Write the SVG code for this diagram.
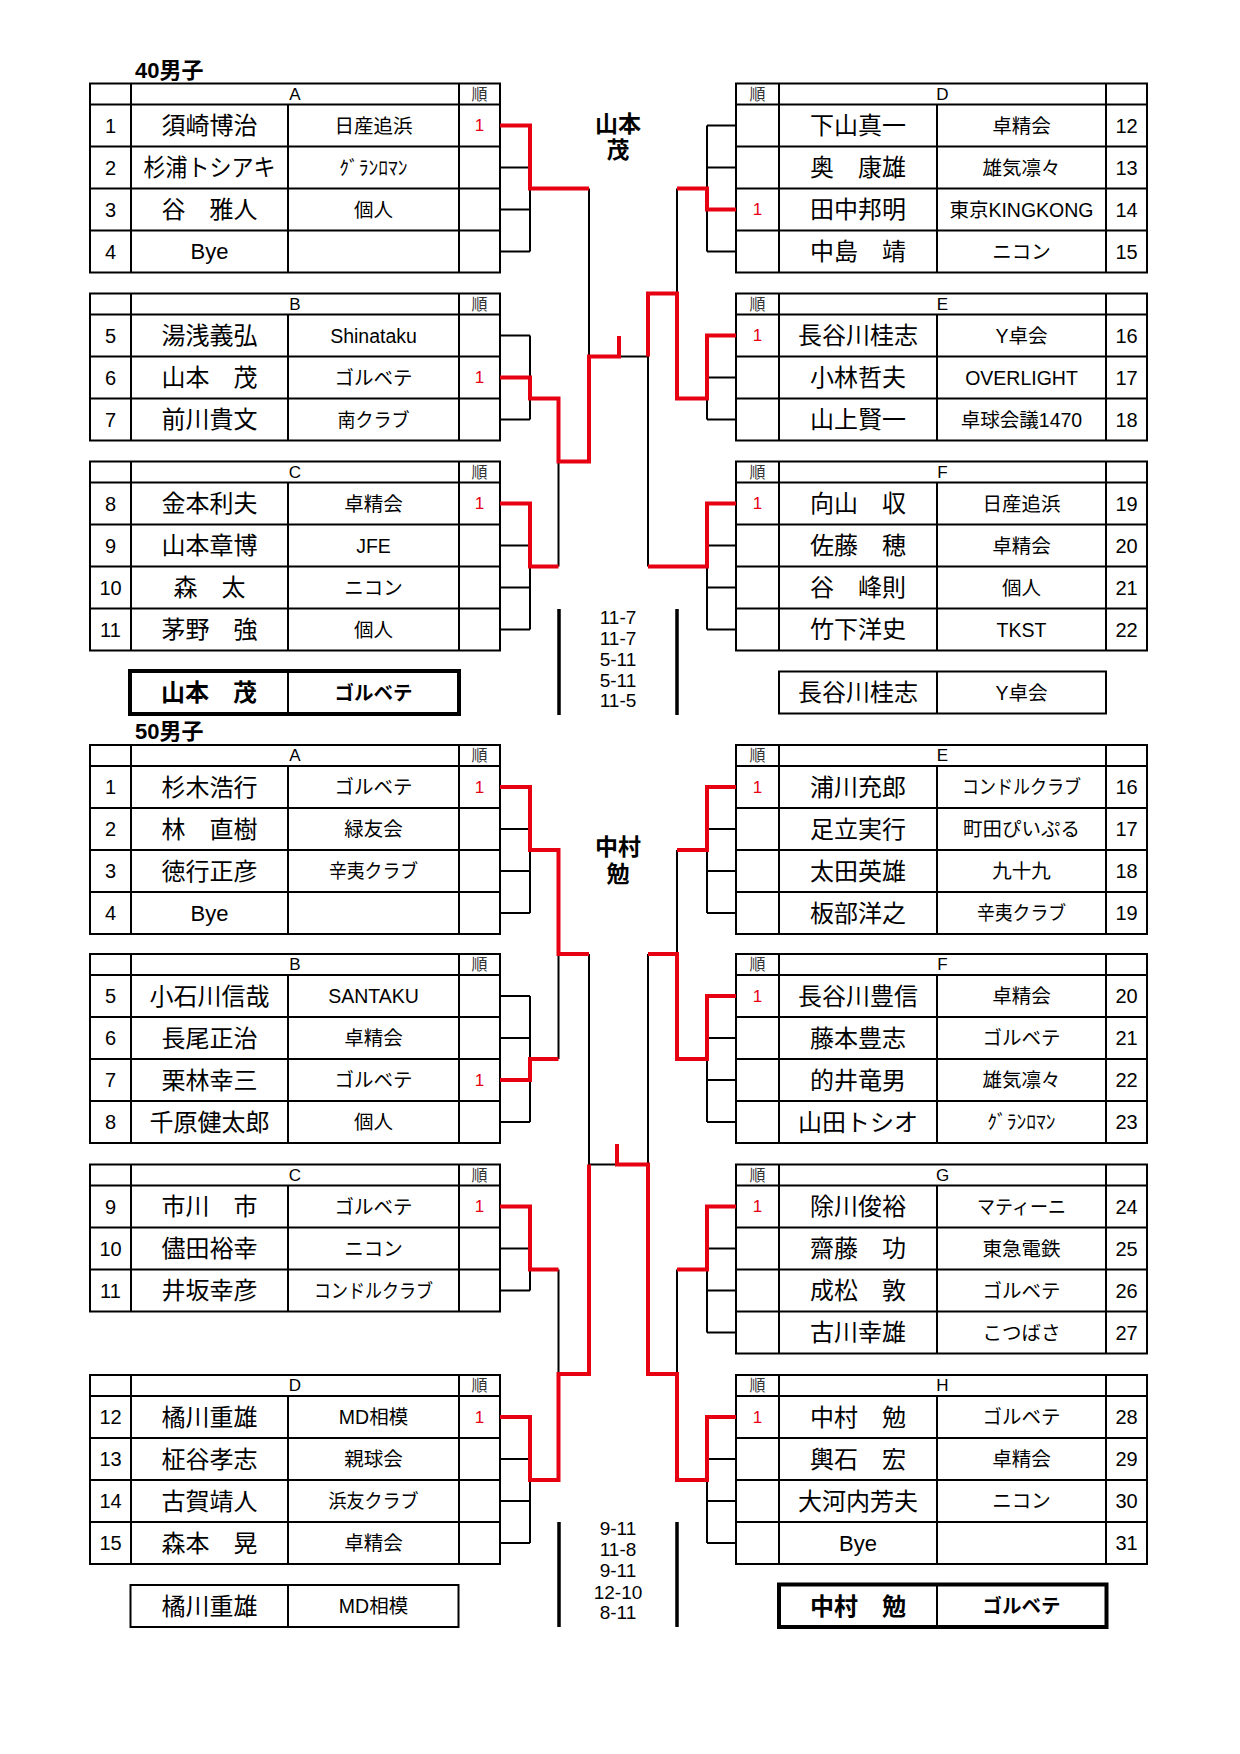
<svg xmlns="http://www.w3.org/2000/svg" width="1240" height="1754" viewBox="0 0 1240 1754">
<style>
text{font-family:'Liberation Sans','Noto Sans CJK JP',sans-serif;text-anchor:middle;dominant-baseline:central;fill:#000}
.tb{fill:none;stroke:#000;stroke-width:2}
.tk{fill:none;stroke:#000;stroke-width:4}
.nm{font-size:24px}
.by{font-size:22px}
.af{font-size:19.5px}
.no{font-size:20px}
.hd{font-size:17px}
.jn{font-size:16px;fill:#333}
.r1{font-size:17px;fill:#e60012}
.ttl{font-size:22px;font-weight:bold;text-anchor:start;dominant-baseline:auto}
.b{font-weight:bold}
.sc{font-size:19px}
.ctr{font-size:23px;font-weight:bold}
.bl{fill:none;stroke:#000;stroke-width:2}
.rd{fill:none;stroke:#e60012;stroke-width:4;stroke-linejoin:miter}
.bar{stroke:#000;stroke-width:3.5}
</style>
<rect width="1240" height="1754" fill="#fff"/>

<!-- ===== 40 ===== -->
<text class="ttl" x="135" y="78">40男子</text>

<g id="t40A">
<rect class="tb" x="90" y="83.5" width="410" height="189"/>
<path class="tb" d="M90,104.5H500M90,146.5H500M90,188.5H500M90,230.5H500M131,83.5V272.5M459,83.5V272.5M288,104.5V272.5"/>
<text class="hd" x="295" y="94">A</text><text class="jn" x="479.5" y="94">順</text>
<text class="no" x="110.5" y="125.5">1</text><text class="nm" x="209.5" y="125.5">須崎博治</text><text class="af" x="373.5" y="125.5">日産追浜</text><text class="r1" x="479.5" y="125.5">1</text>
<text class="no" x="110.5" y="167.5">2</text><text class="nm" x="209.5" y="167.5" textLength="132" lengthAdjust="spacingAndGlyphs">杉浦トシアキ</text><text class="af" x="373.5" y="167.5">ｸﾞﾗﾝﾛﾏﾝ</text>
<text class="no" x="110.5" y="209.5">3</text><text class="nm" x="209.5" y="209.5">谷　雅人</text><text class="af" x="373.5" y="209.5">個人</text>
<text class="no" x="110.5" y="251.5">4</text><text class="by" x="209.5" y="251.5">Bye</text>
</g>

<g id="t40B">
<rect class="tb" x="90" y="293.5" width="410" height="147"/>
<path class="tb" d="M90,314.5H500M90,356.5H500M90,398.5H500M131,293.5V440.5M459,293.5V440.5M288,314.5V440.5"/>
<text class="hd" x="295" y="304">B</text><text class="jn" x="479.5" y="304">順</text>
<text class="no" x="110.5" y="335.5">5</text><text class="nm" x="209.5" y="335.5">湯浅義弘</text><text class="af" x="373.5" y="335.5">Shinataku</text>
<text class="no" x="110.5" y="377.5">6</text><text class="nm" x="209.5" y="377.5">山本　茂</text><text class="af" x="373.5" y="377.5">ゴルベテ</text><text class="r1" x="479.5" y="377.5">1</text>
<text class="no" x="110.5" y="419.5">7</text><text class="nm" x="209.5" y="419.5">前川貴文</text><text class="af" x="373.5" y="419.5" textLength="72" lengthAdjust="spacingAndGlyphs">南クラブ</text>
</g>

<g id="t40C">
<rect class="tb" x="90" y="461.5" width="410" height="189"/>
<path class="tb" d="M90,482.5H500M90,524.5H500M90,566.5H500M90,608.5H500M131,461.5V650.5M459,461.5V650.5M288,482.5V650.5"/>
<text class="hd" x="295" y="472">C</text><text class="jn" x="479.5" y="472">順</text>
<text class="no" x="110.5" y="503.5">8</text><text class="nm" x="209.5" y="503.5">金本利夫</text><text class="af" x="373.5" y="503.5">卓精会</text><text class="r1" x="479.5" y="503.5">1</text>
<text class="no" x="110.5" y="545.5">9</text><text class="nm" x="209.5" y="545.5">山本章博</text><text class="af" x="373.5" y="545.5">JFE</text>
<text class="no" x="110.5" y="587.5">10</text><text class="nm" x="209.5" y="587.5">森　太</text><text class="af" x="373.5" y="587.5">ニコン</text>
<text class="no" x="110.5" y="629.5">11</text><text class="nm" x="209.5" y="629.5">茅野　強</text><text class="af" x="373.5" y="629.5">個人</text>
</g>

<g id="t40D">
<rect class="tb" x="736" y="83.5" width="411" height="189"/>
<path class="tb" d="M736,104.5H1147M736,146.5H1147M736,188.5H1147M736,230.5H1147M779,83.5V272.5M1106,83.5V272.5M937,104.5V272.5"/>
<text class="jn" x="757.5" y="94">順</text><text class="hd" x="942.5" y="94">D</text>
<text class="nm" x="858" y="125.5">下山真一</text><text class="af" x="1021.5" y="125.5">卓精会</text><text class="no" x="1126.5" y="125.5">12</text>
<text class="nm" x="858" y="167.5">奥　康雄</text><text class="af" x="1021.5" y="167.5">雄気凛々</text><text class="no" x="1126.5" y="167.5">13</text>
<text class="r1" x="757.5" y="209.5">1</text><text class="nm" x="858" y="209.5">田中邦明</text><text class="af" x="1021.5" y="209.5">東京KINGKONG</text><text class="no" x="1126.5" y="209.5">14</text>
<text class="nm" x="858" y="251.5">中島　靖</text><text class="af" x="1021.5" y="251.5">ニコン</text><text class="no" x="1126.5" y="251.5">15</text>
</g>

<g id="t40E">
<rect class="tb" x="736" y="293.5" width="411" height="147"/>
<path class="tb" d="M736,314.5H1147M736,356.5H1147M736,398.5H1147M779,293.5V440.5M1106,293.5V440.5M937,314.5V440.5"/>
<text class="jn" x="757.5" y="304">順</text><text class="hd" x="942.5" y="304">E</text>
<text class="r1" x="757.5" y="335.5">1</text><text class="nm" x="858" y="335.5">長谷川桂志</text><text class="af" x="1021.5" y="335.5">Y卓会</text><text class="no" x="1126.5" y="335.5">16</text>
<text class="nm" x="858" y="377.5">小林哲夫</text><text class="af" x="1021.5" y="377.5">OVERLIGHT</text><text class="no" x="1126.5" y="377.5">17</text>
<text class="nm" x="858" y="419.5">山上賢一</text><text class="af" x="1021.5" y="419.5">卓球会議1470</text><text class="no" x="1126.5" y="419.5">18</text>
</g>

<g id="t40F">
<rect class="tb" x="736" y="461.5" width="411" height="189"/>
<path class="tb" d="M736,482.5H1147M736,524.5H1147M736,566.5H1147M736,608.5H1147M779,461.5V650.5M1106,461.5V650.5M937,482.5V650.5"/>
<text class="jn" x="757.5" y="472">順</text><text class="hd" x="942.5" y="472">F</text>
<text class="r1" x="757.5" y="503.5">1</text><text class="nm" x="858" y="503.5">向山　収</text><text class="af" x="1021.5" y="503.5">日産追浜</text><text class="no" x="1126.5" y="503.5">19</text>
<text class="nm" x="858" y="545.5">佐藤　穂</text><text class="af" x="1021.5" y="545.5">卓精会</text><text class="no" x="1126.5" y="545.5">20</text>
<text class="nm" x="858" y="587.5">谷　峰則</text><text class="af" x="1021.5" y="587.5">個人</text><text class="no" x="1126.5" y="587.5">21</text>
<text class="nm" x="858" y="629.5">竹下洋史</text><text class="af" x="1021.5" y="629.5">TKST</text><text class="no" x="1126.5" y="629.5">22</text>
</g>

<g id="w40L">
<rect class="tk" x="130" y="671" width="329" height="43"/>
<path class="tb" d="M288,671V714"/>
<text class="nm b" x="209" y="692.5">山本　茂</text><text class="af b" x="373.5" y="692.5">ゴルベテ</text>
</g>
<g id="w40R">
<rect class="tb" x="779" y="671.5" width="327" height="42"/>
<path class="tb" d="M937,671.5V713.5"/>
<text class="nm" x="858" y="692.5">長谷川桂志</text><text class="af" x="1021.5" y="692.5">Y卓会</text>
</g>

<g id="c40">
<text class="ctr" x="618" y="124">山本</text><text class="ctr" x="618" y="150">茂</text>
<path class="bar" d="M559,609V715M677,609V715"/>
<text class="sc" x="618" y="617">11-7</text><text class="sc" x="618" y="638">11-7</text><text class="sc" x="618" y="659">5-11</text><text class="sc" x="618" y="680">5-11</text><text class="sc" x="618" y="700">11-5</text>
</g>

<!-- ===== 50 ===== -->
<text class="ttl" x="135" y="739">50男子</text>

<g id="t50A">
<rect class="tb" x="90" y="745" width="410" height="189"/>
<path class="tb" d="M90,766H500M90,808H500M90,850H500M90,892H500M131,745V934M459,745V934M288,766V934"/>
<text class="hd" x="295" y="755.5">A</text><text class="jn" x="479.5" y="755.5">順</text>
<text class="no" x="110.5" y="787">1</text><text class="nm" x="209.5" y="787">杉木浩行</text><text class="af" x="373.5" y="787">ゴルベテ</text><text class="r1" x="479.5" y="787">1</text>
<text class="no" x="110.5" y="829">2</text><text class="nm" x="209.5" y="829">林　直樹</text><text class="af" x="373.5" y="829">緑友会</text>
<text class="no" x="110.5" y="871">3</text><text class="nm" x="209.5" y="871">徳行正彦</text><text class="af" x="373.5" y="871" textLength="89" lengthAdjust="spacingAndGlyphs">辛夷クラブ</text>
<text class="no" x="110.5" y="913">4</text><text class="by" x="209.5" y="913">Bye</text>
</g>

<g id="t50B">
<rect class="tb" x="90" y="954" width="410" height="189"/>
<path class="tb" d="M90,975H500M90,1017H500M90,1059H500M90,1101H500M131,954V1143M459,954V1143M288,975V1143"/>
<text class="hd" x="295" y="964.5">B</text><text class="jn" x="479.5" y="964.5">順</text>
<text class="no" x="110.5" y="996">5</text><text class="nm" x="209.5" y="996">小石川信哉</text><text class="af" x="373.5" y="996">SANTAKU</text>
<text class="no" x="110.5" y="1038">6</text><text class="nm" x="209.5" y="1038">長尾正治</text><text class="af" x="373.5" y="1038">卓精会</text>
<text class="no" x="110.5" y="1080">7</text><text class="nm" x="209.5" y="1080">栗林幸三</text><text class="af" x="373.5" y="1080">ゴルベテ</text><text class="r1" x="479.5" y="1080">1</text>
<text class="no" x="110.5" y="1122">8</text><text class="nm" x="209.5" y="1122">千原健太郎</text><text class="af" x="373.5" y="1122">個人</text>
</g>

<g id="t50C">
<rect class="tb" x="90" y="1164.5" width="410" height="147"/>
<path class="tb" d="M90,1185.5H500M90,1227.5H500M90,1269.5H500M131,1164.5V1311.5M459,1164.5V1311.5M288,1185.5V1311.5"/>
<text class="hd" x="295" y="1175">C</text><text class="jn" x="479.5" y="1175">順</text>
<text class="no" x="110.5" y="1206.5">9</text><text class="nm" x="209.5" y="1206.5">市川　市</text><text class="af" x="373.5" y="1206.5">ゴルベテ</text><text class="r1" x="479.5" y="1206.5">1</text>
<text class="no" x="110.5" y="1248.5">10</text><text class="nm" x="209.5" y="1248.5">儘田裕幸</text><text class="af" x="373.5" y="1248.5">ニコン</text>
<text class="no" x="110.5" y="1290.5">11</text><text class="nm" x="209.5" y="1290.5">井坂幸彦</text><text class="af" x="373.5" y="1290.5" textLength="119" lengthAdjust="spacingAndGlyphs">コンドルクラブ</text>
</g>

<g id="t50D">
<rect class="tb" x="90" y="1375" width="410" height="189"/>
<path class="tb" d="M90,1396H500M90,1438H500M90,1480H500M90,1522H500M131,1375V1564M459,1375V1564M288,1396V1564"/>
<text class="hd" x="295" y="1385.5">D</text><text class="jn" x="479.5" y="1385.5">順</text>
<text class="no" x="110.5" y="1417">12</text><text class="nm" x="209.5" y="1417">橘川重雄</text><text class="af" x="373.5" y="1417">MD相模</text><text class="r1" x="479.5" y="1417">1</text>
<text class="no" x="110.5" y="1459">13</text><text class="nm" x="209.5" y="1459">柾谷孝志</text><text class="af" x="373.5" y="1459">親球会</text>
<text class="no" x="110.5" y="1501">14</text><text class="nm" x="209.5" y="1501">古賀靖人</text><text class="af" x="373.5" y="1501" textLength="90" lengthAdjust="spacingAndGlyphs">浜友クラブ</text>
<text class="no" x="110.5" y="1543">15</text><text class="nm" x="209.5" y="1543">森本　晃</text><text class="af" x="373.5" y="1543">卓精会</text>
</g>

<g id="t50E">
<rect class="tb" x="736" y="745" width="411" height="189"/>
<path class="tb" d="M736,766H1147M736,808H1147M736,850H1147M736,892H1147M779,745V934M1106,745V934M937,766V934"/>
<text class="jn" x="757.5" y="755.5">順</text><text class="hd" x="942.5" y="755.5">E</text>
<text class="r1" x="757.5" y="787">1</text><text class="nm" x="858" y="787">浦川充郎</text><text class="af" x="1021.5" y="787" textLength="119" lengthAdjust="spacingAndGlyphs">コンドルクラブ</text><text class="no" x="1126.5" y="787">16</text>
<text class="nm" x="858" y="829">足立実行</text><text class="af" x="1021.5" y="829">町田ぴいぷる</text><text class="no" x="1126.5" y="829">17</text>
<text class="nm" x="858" y="871">太田英雄</text><text class="af" x="1021.5" y="871">九十九</text><text class="no" x="1126.5" y="871">18</text>
<text class="nm" x="858" y="913">板部洋之</text><text class="af" x="1021.5" y="913" textLength="89" lengthAdjust="spacingAndGlyphs">辛夷クラブ</text><text class="no" x="1126.5" y="913">19</text>
</g>

<g id="t50F">
<rect class="tb" x="736" y="954" width="411" height="189"/>
<path class="tb" d="M736,975H1147M736,1017H1147M736,1059H1147M736,1101H1147M779,954V1143M1106,954V1143M937,975V1143"/>
<text class="jn" x="757.5" y="964.5">順</text><text class="hd" x="942.5" y="964.5">F</text>
<text class="r1" x="757.5" y="996">1</text><text class="nm" x="858" y="996">長谷川豊信</text><text class="af" x="1021.5" y="996">卓精会</text><text class="no" x="1126.5" y="996">20</text>
<text class="nm" x="858" y="1038">藤本豊志</text><text class="af" x="1021.5" y="1038">ゴルベテ</text><text class="no" x="1126.5" y="1038">21</text>
<text class="nm" x="858" y="1080">的井竜男</text><text class="af" x="1021.5" y="1080">雄気凛々</text><text class="no" x="1126.5" y="1080">22</text>
<text class="nm" x="858" y="1122">山田トシオ</text><text class="af" x="1021.5" y="1122">ｸﾞﾗﾝﾛﾏﾝ</text><text class="no" x="1126.5" y="1122">23</text>
</g>

<g id="t50G">
<rect class="tb" x="736" y="1164.5" width="411" height="189"/>
<path class="tb" d="M736,1185.5H1147M736,1227.5H1147M736,1269.5H1147M736,1311.5H1147M779,1164.5V1353.5M1106,1164.5V1353.5M937,1185.5V1353.5"/>
<text class="jn" x="757.5" y="1175">順</text><text class="hd" x="942.5" y="1175">G</text>
<text class="r1" x="757.5" y="1206.5">1</text><text class="nm" x="858" y="1206.5">除川俊裕</text><text class="af" x="1021.5" y="1206.5" textLength="89" lengthAdjust="spacingAndGlyphs">マティーニ</text><text class="no" x="1126.5" y="1206.5">24</text>
<text class="nm" x="858" y="1248.5">齋藤　功</text><text class="af" x="1021.5" y="1248.5">東急電鉄</text><text class="no" x="1126.5" y="1248.5">25</text>
<text class="nm" x="858" y="1290.5">成松　敦</text><text class="af" x="1021.5" y="1290.5">ゴルベテ</text><text class="no" x="1126.5" y="1290.5">26</text>
<text class="nm" x="858" y="1332.5">古川幸雄</text><text class="af" x="1021.5" y="1332.5">こつばさ</text><text class="no" x="1126.5" y="1332.5">27</text>
</g>

<g id="t50H">
<rect class="tb" x="736" y="1375" width="411" height="189"/>
<path class="tb" d="M736,1396H1147M736,1438H1147M736,1480H1147M736,1522H1147M779,1375V1564M1106,1375V1564M937,1396V1564"/>
<text class="jn" x="757.5" y="1385.5">順</text><text class="hd" x="942.5" y="1385.5">H</text>
<text class="r1" x="757.5" y="1417">1</text><text class="nm" x="858" y="1417">中村　勉</text><text class="af" x="1021.5" y="1417">ゴルベテ</text><text class="no" x="1126.5" y="1417">28</text>
<text class="nm" x="858" y="1459">輿石　宏</text><text class="af" x="1021.5" y="1459">卓精会</text><text class="no" x="1126.5" y="1459">29</text>
<text class="nm" x="858" y="1501">大河内芳夫</text><text class="af" x="1021.5" y="1501">ニコン</text><text class="no" x="1126.5" y="1501">30</text>
<text class="by" x="858" y="1543">Bye</text><text class="no" x="1126.5" y="1543">31</text>
</g>

<g id="w50L">
<rect class="tb" x="130.5" y="1585" width="328" height="42"/>
<path class="tb" d="M288,1585V1627"/>
<text class="nm" x="209.5" y="1606">橘川重雄</text><text class="af" x="373.5" y="1606">MD相模</text>
</g>
<g id="w50R">
<rect class="tk" x="779" y="1584.5" width="327.5" height="42.5"/>
<path class="tb" d="M937,1584.5V1627"/>
<text class="nm b" x="858" y="1606">中村　勉</text><text class="af b" x="1021.5" y="1606">ゴルベテ</text>
</g>

<g id="c50">
<text class="ctr" x="618" y="847">中村</text><text class="ctr" x="618" y="874">勉</text>
<path class="bar" d="M559,1522V1627M677,1522V1627"/>
<text class="sc" x="618" y="1528">9-11</text><text class="sc" x="618" y="1549">11-8</text><text class="sc" x="618" y="1570">9-11</text><text class="sc" x="618" y="1592">12-10</text><text class="sc" x="618" y="1612">8-11</text>
</g>

<g id="connectors">
<path class="bl" d="M500,167.5H530M500,209.5H530M500,251.5H530M530,125.5V251.5
M500,335.5H530M500,419.5H530M530,335.5V419.5
M500,545.5H530M500,587.5H530M500,629.5H530M530,503.5V629.5
M558.5,398.5V566.5M589,188.5V461.5M619,356.5H648
M736,125.5H707M736,167.5H707M736,251.5H707M707,125.5V251.5
M736,377.5H707M736,419.5H707M707,335.5V419.5
M736,545.5H707M736,587.5H707M736,629.5H707M707,503.5V629.5
M677,188.5V398.5M648,293.5V566.5"/>
<path class="rd" d="M500,125.5H530V188.5H589"/>
<path class="rd" d="M500,377.5H530V398.5H558.5V461.5H589V356.5H619V336"/>
<path class="rd" d="M500,503.5H530V566.5H558.5"/>
<path class="rd" d="M736,209.5H707V188.5H677"/>
<path class="rd" d="M736,335.5H707V398.5H677V293.5H648V356.5"/>
<path class="rd" d="M736,503.5H707V566.5H648"/>
<path class="bl" d="M500,829H530M500,871H530M500,913H530M530,787V913
M500,996H530M500,1038H530M500,1122H530M530,996V1122
M558.5,850V1059
M500,1248.5H530M500,1290.5H530M530,1206.5V1290.5
M500,1459H530M500,1501H530M500,1543H530M530,1417V1543
M558.5,1269.5V1480M589,954V1374M589,1164.5H617
M736,829H707M736,871H707M736,913H707M707,787V913
M736,1038H707M736,1080H707M736,1122H707M707,996V1122
M677,850V1059
M736,1248.5H707M736,1290.5H707M736,1332.5H707M707,1206.5V1332.5
M736,1459H707M736,1501H707M736,1543H707M707,1417V1543
M677,1269.5V1480M648,954V1374"/>
<path class="rd" d="M500,787H530V850H558.5V954H589"/>
<path class="rd" d="M500,1080H530V1059H558.5"/>
<path class="rd" d="M500,1206.5H530V1269.5H558.5"/>
<path class="rd" d="M500,1417H530V1480H558.5V1374H589V1164.5"/>
<path class="rd" d="M736,787H707V850H677"/>
<path class="rd" d="M736,996H707V1059H677V954H648"/>
<path class="rd" d="M736,1206.5H707V1269.5H677"/>
<path class="rd" d="M736,1417H707V1480H677V1374H648V1164.5H617V1144"/>
</g>
</svg>
